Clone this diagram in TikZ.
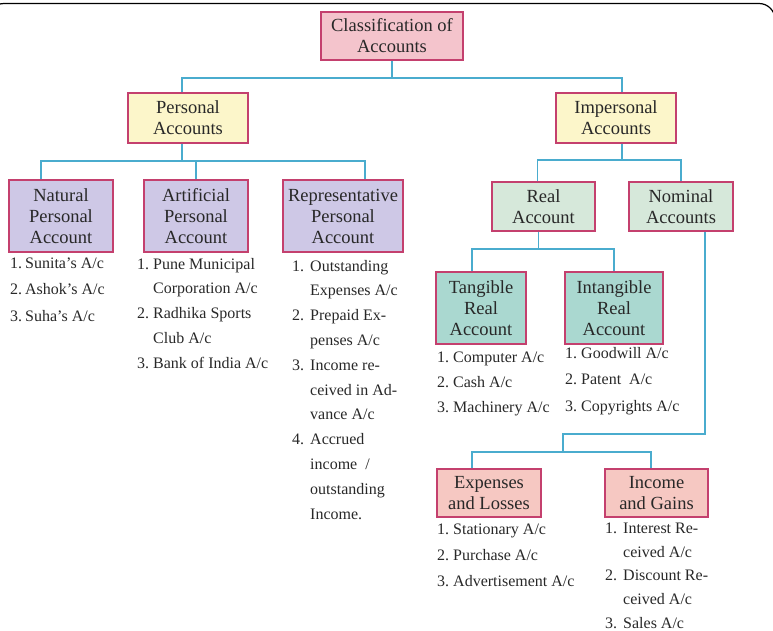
\documentclass[tikz,border=0pt]{standalone}
\usepackage{fontspec}
\setmainfont{Liberation Serif}
\usepackage{xcolor}
\usepackage{tikz}
\definecolor{boxline}{RGB}{196,64,110}
\definecolor{linkblue}{RGB}{74,172,206}
\definecolor{rootpink}{RGB}{244,196,204}
\definecolor{persyellow}{RGB}{252,246,202}
\definecolor{perslilac}{RGB}{206,200,230}
\definecolor{realgreen}{RGB}{214,232,218}
\definecolor{realteal}{RGB}{170,216,208}
\definecolor{nomsalmon}{RGB}{246,200,194}
\definecolor{textgray}{RGB}{40,40,40}

\begin{document}
\begin{tikzpicture}[x=1pt, y=-1pt,
    acbox/.style={draw=boxline, line width=1.2pt, align=center, inner sep=0pt,
        text=textgray, font=\fontsize{18.5}{21}\selectfont},
    link/.style={linkblue, line width=1.3pt},
    aclist/.style={anchor=north west, inner sep=0pt, text=textgray,
        font=\fontsize{16}{#1}\selectfont},
    aclist/.default=24.8]
    \useasboundingbox (0,0) rectangle (773,631);

    % Frame
    \draw[line width=1.2pt, rounded corners=16pt] (-12,60) -- (-12,3.5) -- (775,3.5) -- (775,60);

    % Root
    \node[acbox, fill=rootpink, minimum width=142pt, minimum height=48pt] (root) at (392,36) {Classification of\\Accounts};

    % Personal / Impersonal
    \node[acbox, fill=persyellow, minimum width=120pt, minimum height=50pt] (pers) at (188,118) {Personal\\Accounts};
    \node[acbox, fill=persyellow, minimum width=120pt, minimum height=50pt] (imp) at (616,118) {Impersonal\\Accounts};

    % Personal accounts
    \node[acbox, fill=perslilac, minimum width=104pt, minimum height=72pt] (nat) at (61,216) {Natural\\Personal\\Account};
    \node[acbox, fill=perslilac, minimum width=104pt, minimum height=72pt] (art) at (196,216) {Artificial\\Personal\\Account};
    \node[acbox, fill=perslilac, minimum width=120pt, minimum height=72pt] (rep) at (343,216) {Representative\\Personal\\Account};

    % Impersonal accounts
    \node[acbox, fill=realgreen, minimum width=103pt, minimum height=49pt] (real) at (543.5,206.5) {Real\\Account};
    \node[acbox, fill=realgreen, minimum width=104pt, minimum height=49pt] (nom) at (681,206.5) {Nominal\\Accounts};
    \node[acbox, fill=realteal, minimum width=90pt, minimum height=72pt] (tang) at (481,308) {Tangible\\Real\\Account};
    \node[acbox, fill=realteal, minimum width=98pt, minimum height=72pt] (intang) at (614,308) {Intangible\\Real\\Account};
    \node[acbox, fill=nomsalmon, minimum width=104pt, minimum height=48pt] (exp) at (489,493) {Expenses\\and Losses};
    \node[acbox, fill=nomsalmon, minimum width=103pt, minimum height=48pt] (inc) at (656.5,493) {Income\\and Gains};

    % Lists of examples
    \node[aclist=26.5] (natL) at (10,249.5) {\begin{tabular}{@{}l@{\hspace{3pt}}l@{}}
        1.&Sunita's A/c\\ 2.&Ashok's A/c\\ 3.&Suha's A/c\end{tabular}};
    \node[aclist] (artL) at (137,251.5) {\begin{tabular}{@{}l@{\hspace{4pt}}l@{}}
        1.&Pune Municipal\\ &Corporation A/c\\ 2.&Radhika Sports\\ &Club A/c\\ 3.&Bank of India A/c\end{tabular}};
    \node[aclist] (repL) at (292,253.5) {\begin{tabular}{@{}l@{\hspace{6pt}}l@{}}
        1.&Outstanding\\ &Expenses A/c\\ 2.&Prepaid Ex-\\ &penses A/c\\ 3.&Income re-\\ &ceived in Ad-\\ &vance A/c\\
        4.&Accrued\\ &income~~/\\ &outstanding\\ &Income.\end{tabular}};
    \node[aclist=25] (tangL) at (437,344.5) {\begin{tabular}{@{}l@{\hspace{4pt}}l@{}}
        1.&Computer A/c\\ 2.&Cash A/c\\ 3.&Machinery A/c\end{tabular}};
    \node[aclist=26.5] (intangL) at (565,339.5) {\begin{tabular}{@{}l@{\hspace{4pt}}l@{}}
        1.&Goodwill A/c\\ 2.&Patent~ A/c\\ 3.&Copyrights A/c\end{tabular}};
    \node[aclist=26] (expL) at (437,516.5) {\begin{tabular}{@{}l@{\hspace{4pt}}l@{}}
        1.&Stationary A/c\\ 2.&Purchase A/c\\ 3.&Advertisement A/c\end{tabular}};
    \node[aclist=23.8] (incL) at (605,516.5) {\begin{tabular}{@{}l@{\hspace{6pt}}l@{}}
        1.&Interest Re-\\ &ceived A/c\\ 2.&Discount Re-\\ &ceived A/c\\ 3.&Sales A/c\end{tabular}};

    % Connectors: root
    \coordinate (barA) at (0,78);
    \coordinate (persIn) at ([xshift=-6pt]pers.north);
    \coordinate (impIn) at ([xshift=6pt]imp.north);
    \draw[link] (root.south) -- (root.south |- barA);
    \draw[link] (persIn) -- (persIn |- barA) -- (impIn |- barA) -- (impIn);

    % Connectors: personal
    \coordinate (barB) at (0,161);
    \coordinate (persOut) at ([xshift=-6pt]pers.south);
    \coordinate (natIn) at ([xshift=-20pt]nat.north);
    \coordinate (repIn) at ([xshift=22pt]rep.north);
    \draw[link] (persOut) -- (persOut |- barB);
    \draw[link] (natIn) -- (natIn |- barB) -- (repIn |- barB) -- (repIn);
    \draw[link] (art.north) -- (art.north |- barB);

    % Connectors: impersonal
    \coordinate (barC) at (0,160);
    \coordinate (impOut) at ([xshift=6pt]imp.south);
    \coordinate (realIn) at ([xshift=-6pt]real.north);
    \draw[link] (impOut) -- (impOut |- barC);
    \draw[link] (realIn) -- (realIn |- barC) -- (nom.north |- barC) -- (nom.north);

    % Connectors: real
    \coordinate (barD) at (0,249);
    \coordinate (realOut) at ([xshift=-5pt]real.south);
    \coordinate (tangIn) at ([xshift=-9pt]tang.north);
    \draw[link] (realOut) -- (realOut |- barD);
    \draw[link] (tangIn) -- (tangIn |- barD) -- (intang.north |- barD) -- (intang.north);

    % Connectors: nominal
    \coordinate (barE) at (0,434);
    \coordinate (barF) at (0,452);
    \coordinate (stepE) at (563,434);
    \coordinate (nomOut) at ([xshift=24pt]nom.south);
    \coordinate (expIn) at ([xshift=-17pt]exp.north);
    \coordinate (incIn) at ([xshift=-5.5pt]inc.north);
    \draw[link] (nomOut) -- (nomOut |- barE) -- (stepE) -- (stepE |- barF);
    \draw[link] (expIn) -- (expIn |- barF) -- (incIn |- barF) -- (incIn);
\end{tikzpicture}
\end{document}
